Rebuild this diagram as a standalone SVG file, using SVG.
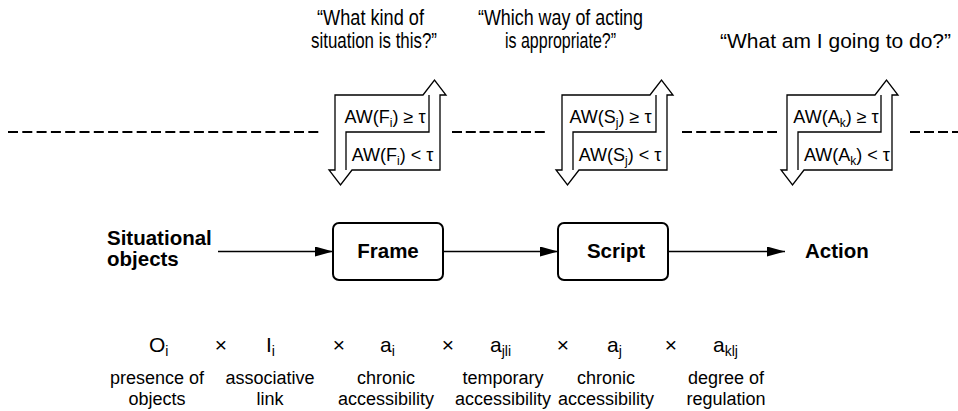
<svg xmlns="http://www.w3.org/2000/svg" width="958" height="411" viewBox="0 0 958 411">
<style>
.q{font-family:"Liberation Sans",Arial,sans-serif;font-size:22px;fill:#000}
.sw{font-family:"Liberation Sans",Arial,sans-serif;font-size:18px;fill:#000}
.b{font-family:"Liberation Sans",Arial,sans-serif;font-size:20.5px;font-weight:bold;fill:#000}
.f{font-family:"Liberation Sans",Arial,sans-serif;font-size:21px;fill:#000}
.lb{font-family:"Liberation Sans",Arial,sans-serif;font-size:18px;fill:#000;text-anchor:middle}
.sub{font-size:12px}
.fs{font-size:14px}
.node{fill:#fff;stroke:#000;stroke-width:2}
.swo{fill:#fff;stroke:#000;stroke-width:1.3;stroke-linejoin:miter}
.swi{fill:none;stroke:#000;stroke-width:1.3}
.dash{stroke:#000;stroke-width:2;fill:none}
.conn{stroke:#000;stroke-width:1.6;fill:none;marker-end:url(#ah)}
</style>
<defs>
<marker id="ah" markerUnits="userSpaceOnUse" markerWidth="18" markerHeight="10" refX="18" refY="5" orient="auto">
<path d="M0,0 L18,5 L0,10 Z" fill="#000"/>
</marker>
<g id="switch">
<path class="swo" d="M335,95 H423 L434.5,80 L446,95 H440 V170 H352 L340.5,185 L329,170 H335 Z"/>
<path class="swi" d="M346,170 V132 H429 V95"/>
</g>
</defs>

<g id="questions">
<text class="q" x="370.5" y="25" text-anchor="middle" textLength="107" lengthAdjust="spacingAndGlyphs">“What kind of</text>
<text class="q" x="374" y="48" text-anchor="middle" textLength="126" lengthAdjust="spacingAndGlyphs">situation is this?”</text>
<text class="q" x="560.5" y="25" text-anchor="middle" textLength="165" lengthAdjust="spacingAndGlyphs">“Which way of acting</text>
<text class="q" x="560.5" y="48" text-anchor="middle" textLength="111" lengthAdjust="spacingAndGlyphs">is appropriate?”</text>
<text class="q" x="720" y="48" style="font-size:20.5px" textLength="231" lengthAdjust="spacingAndGlyphs">“What am I going to do?”</text>
</g>

<g id="threshold-line">
<line class="dash" x1="8" y1="132" x2="322" y2="132" stroke-dasharray="10 4.3"/>
<line class="dash" x1="452" y1="132" x2="545" y2="132" stroke-dasharray="10 3.8"/>
<line class="dash" x1="682" y1="132" x2="777" y2="132" stroke-dasharray="10 4.2"/>
<line class="dash" x1="910" y1="132" x2="958" y2="132" stroke-dasharray="10 4"/>
</g>

<g id="switch-frame">
<use href="#switch"/>
<text class="sw" x="385" y="123" text-anchor="middle">AW(F<tspan class="sub" dy="4">i</tspan><tspan dy="-4">) ≥ τ</tspan></text>
<text class="sw" x="392.5" y="161" text-anchor="middle">AW(F<tspan class="sub" dy="4">i</tspan><tspan dy="-4">) &lt; τ</tspan></text>
</g>
<g id="switch-script">
<use href="#switch" transform="translate(227,0)"/>
<text class="sw" x="610.5" y="123" text-anchor="middle">AW(S<tspan class="sub" dy="4">j</tspan><tspan dy="-4">) ≥ τ</tspan></text>
<text class="sw" x="620" y="161" text-anchor="middle">AW(S<tspan class="sub" dy="4">j</tspan><tspan dy="-4">) &lt; τ</tspan></text>
</g>
<g id="switch-action">
<use href="#switch" transform="translate(452,0)"/>
<text class="sw" x="836" y="123" text-anchor="middle">AW(A<tspan class="sub" dy="4">k</tspan><tspan dy="-4">) ≥ τ</tspan></text>
<text class="sw" x="847" y="161" text-anchor="middle">AW(A<tspan class="sub" dy="4">k</tspan><tspan dy="-4">) &lt; τ</tspan></text>
</g>

<g id="situational-objects">
<text class="b" x="107" y="245">Situational</text>
<text class="b" x="107" y="266">objects</text>
</g>
<g id="frame">
<rect class="node" x="333" y="223" width="110" height="57" rx="6"/>
<text class="b" x="388" y="258" text-anchor="middle">Frame</text>
</g>
<g id="script">
<rect class="node" x="558" y="223" width="110" height="57" rx="6"/>
<text class="b" x="616" y="258" text-anchor="middle">Script</text>
</g>
<g id="action">
<text class="b" x="805" y="258">Action</text>
</g>

<g id="connectors">
<line class="conn" x1="218" y1="251.5" x2="333" y2="251.5"/>
<line class="conn" x1="443" y1="251.5" x2="558" y2="251.5"/>
<line class="conn" x1="668" y1="251.5" x2="785" y2="251.5"/>
</g>

<g id="formula">
<text class="f" x="149" y="352">O<tspan class="fs" dy="4">i</tspan></text>
<text class="f" x="221" y="352" text-anchor="middle">×</text>
<text class="f" x="266" y="352">I<tspan class="fs" dy="4">i</tspan></text>
<text class="f" x="339" y="352" text-anchor="middle">×</text>
<text class="f" x="380" y="352">a<tspan class="fs" dy="4">i</tspan></text>
<text class="f" x="448" y="352" text-anchor="middle">×</text>
<text class="f" x="490" y="352">a<tspan class="fs" dy="4">jli</tspan></text>
<text class="f" x="563" y="352" text-anchor="middle">×</text>
<text class="f" x="607" y="352">a<tspan class="fs" dy="4">j</tspan></text>
<text class="f" x="671" y="352" text-anchor="middle">×</text>
<text class="f" x="713" y="352">a<tspan class="fs" dy="4">klj</tspan></text>
</g>

<g id="labels">
<text class="lb" x="157" y="384">presence of</text>
<text class="lb" x="157" y="405">objects</text>
<text class="lb" x="270" y="384">associative</text>
<text class="lb" x="270" y="405">link</text>
<text class="lb" x="386" y="384">chronic</text>
<text class="lb" x="386" y="405">accessibility</text>
<text class="lb" x="503" y="384">temporary</text>
<text class="lb" x="503" y="405">accessibility</text>
<text class="lb" x="606" y="384">chronic</text>
<text class="lb" x="606" y="405">accessibility</text>
<text class="lb" x="726" y="384">degree of</text>
<text class="lb" x="726" y="405">regulation</text>
</g>
</svg>
